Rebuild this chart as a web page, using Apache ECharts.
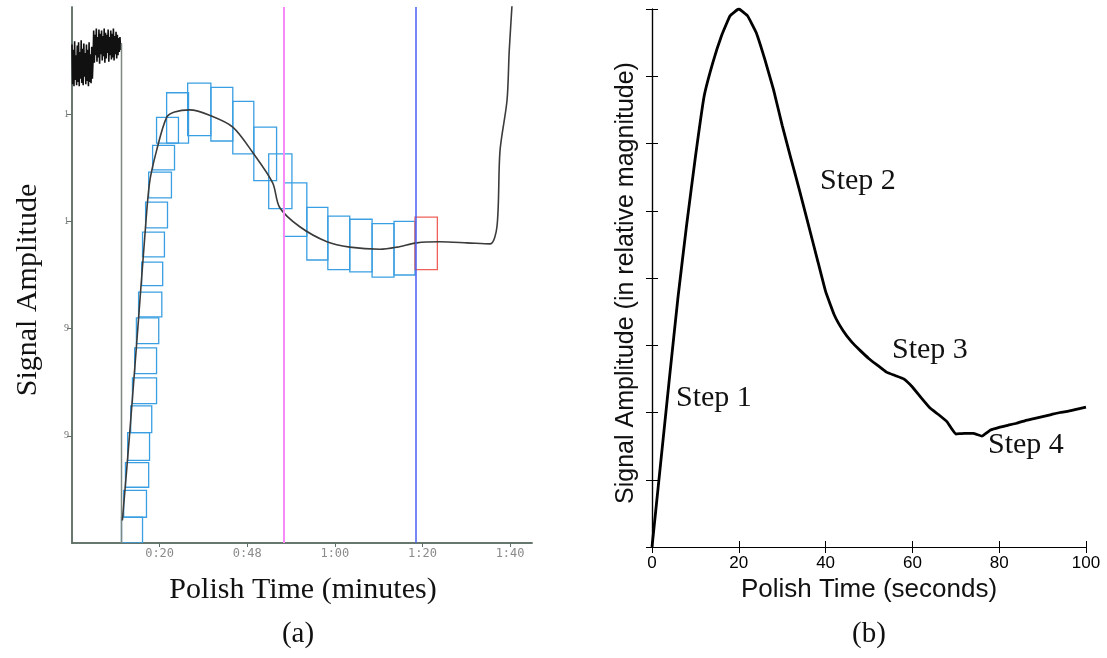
<!DOCTYPE html>
<html>
<head>
<meta charset="utf-8">
<script src="https://cdn.jsdelivr.net/npm/echarts@6/dist/echarts.min.js"></script>
<style>
html, body { margin: 0; padding: 0; background: #ffffff; }
#chart { width: 1107px; height: 658px; }
</style>
</head>
<body>
<div id="chart"></div>
<script>
// ---- panel (a): polish time in seconds, amplitude in tick units ----
var xTicksA = [20, 40, 60, 80, 100];
var xTickLabelsA = ['0:20', '0:48', '1:00', '1:20', '1:40'];
var yTicksA = [1, 2, 3, 4];
var yTickLabelsA = ['9', '9', '1', '1'];

// noisy pre-polish signal, one sample every 0.15 s from 0
var noiseStep = 0.15;
var noiseA = [4.65, 4.28, 4.60, 4.26, 4.68, 4.32, 4.55, 4.27, 4.64, 4.30, 4.67, 4.26,
  4.58, 4.33, 4.69, 4.29, 4.61, 4.27, 4.66, 4.35, 4.57, 4.28, 4.65, 4.31,
  4.60, 4.26, 4.67, 4.30, 4.56, 4.29, 4.63, 4.33,
  4.50, 4.78, 4.48, 4.74, 4.55, 4.80, 4.49, 4.72, 4.53, 4.79, 4.47, 4.75,
  4.56, 4.78, 4.50, 4.73, 4.54, 4.80, 4.48, 4.76, 4.52, 4.74, 4.57, 4.79,
  4.49, 4.72, 4.55, 4.78, 4.51, 4.75, 4.53, 4.80, 4.50, 4.73, 4.56, 4.77,
  4.52, 4.74, 4.55, 4.71, 4.58, 4.72, 4.60, 4.66];
var dropTime = 11.3;

// smoothed polish signal
var curveTimeA = [11.5, 13.1, 15.0, 16.6, 17.7, 19.3, 21.6, 23.4, 26.9, 31.4, 36.7, 41.3,
  45.8, 47.4, 52.0, 58.2, 63.4, 70.3, 74.2, 78.7, 84.0, 90.2, 95.4, 97.0, 97.7, 99.3, 99.8, 100.5, 100.8];
var curveAmpA = [0.21, 0.99, 1.99, 2.85, 3.36, 3.66, 3.97, 4.02, 4.04, 3.99, 3.88, 3.64,
  3.36, 3.13, 2.95, 2.81, 2.76, 2.74, 2.76, 2.80, 2.81, 2.80, 2.79, 2.95, 3.66, 4.13, 4.59, 5.06, 5.3];

// tracking boxes: [start, end, low, high]
var boxesA = [
  [11.3, 16.1, 0.00, 0.24], [11.8, 17.0, 0.24, 0.49], [12.2, 17.5, 0.52, 0.75],
  [12.7, 17.7, 0.77, 1.03], [13.4, 18.2, 1.03, 1.28], [13.8, 19.3, 1.30, 1.54],
  [14.3, 19.3, 1.58, 1.82], [14.7, 19.8, 1.86, 2.10], [15.2, 20.5, 2.11, 2.34],
  [15.9, 20.7, 2.40, 2.62], [16.1, 21.1, 2.67, 2.90], [16.8, 21.8, 2.94, 3.18],
  [17.5, 22.7, 3.22, 3.46], [18.4, 23.4, 3.48, 3.71], [19.3, 24.3, 3.73, 3.97],
  [21.6, 26.6, 3.73, 4.20], [26.4, 31.7, 3.80, 4.29], [31.7, 36.7, 3.75, 4.25],
  [36.7, 41.5, 3.63, 4.12], [41.5, 46.7, 3.38, 3.88], [44.9, 50.2, 3.12, 3.63],
  [48.3, 53.6, 2.86, 3.36], [53.6, 58.4, 2.64, 3.13], [58.4, 63.4, 2.55, 3.05],
  [63.4, 68.5, 2.53, 3.02], [68.5, 73.5, 2.48, 2.98], [73.5, 78.3, 2.50, 3.00]
];
var endBoxA = [[78.3, 83.4, 2.55, 3.04]];
var markerTimesA = [48.3, 78.4];

// ---- panel (b) ----
var timeB = [0, 2, 4, 6, 8, 10, 12, 14, 16, 18, 20, 22, 24, 26, 28, 30, 32, 34, 36, 38, 40,
  42, 44, 46, 48, 50, 52, 54, 56, 58, 60, 62, 64, 66, 68, 70, 72, 74, 76, 78, 80,
  82, 84, 86, 88, 90, 92, 94, 96, 98, 100];
var ampB = [0, 1.25, 2.5, 3.72, 4.8, 5.8, 6.7, 7.2, 7.6, 7.9, 8.0, 7.9, 7.65, 7.25, 6.8, 6.27,
  5.78, 5.3, 4.8, 4.3, 3.8, 3.45, 3.22, 3.05, 2.92, 2.8, 2.7, 2.6, 2.55, 2.5, 2.38,
  2.22, 2.07, 1.97, 1.86, 1.68, 1.69, 1.69, 1.65, 1.74, 1.78, 1.81, 1.84, 1.88, 1.91,
  1.94, 1.97, 2.0, 2.02, 2.05, 2.08];
var stepLabels = ['Step 1', 'Step 2', 'Step 3', 'Step 4'];

function zip(a, b) {
  var out = [];
  for (var i = 0; i < a.length; i++) out.push([a[i], b[i]]);
  return out;
}

var noiseData = noiseA.map(function (v, i) { return [i * noiseStep, v]; });
var frameA = '#5f6f66';
var serif = '"Liberation Serif", "Times New Roman", serif';
var sans = '"Liberation Sans", Arial, sans-serif';

function boxRenderer(color) {
  return function (params, api) {
    var p0 = api.coord([api.value(0), api.value(3)]);
    var p1 = api.coord([api.value(1), api.value(2)]);
    return {
      type: 'rect',
      shape: { x: p0[0], y: p0[1], width: p1[0] - p0[0], height: p1[1] - p0[1] },
      style: { fill: 'none', stroke: color, lineWidth: 1.3 }
    };
  };
}

var chart = echarts.init(document.getElementById('chart'), null, { renderer: 'canvas' });
var option = {
  animation: false,
  backgroundColor: '#ffffff',
  grid: [
    { left: 72, top: 7, width: 460, height: 536 },
    { left: 652, top: 9, width: 434, height: 538 }
  ],
  xAxis: [
    {
      gridIndex: 0, type: 'value', position: 'bottom', min: 0, max: 105, interval: 20,
      axisLine: { lineStyle: { color: frameA, width: 1.5 } },
      axisTick: { show: true, length: 4, customValues: xTicksA, lineStyle: { color: frameA } },
      splitLine: { show: false },
      axisLabel: {
        color: '#8a8a8a', fontSize: 12, fontFamily: '"DejaVu Sans Mono", monospace', margin: 5,
        customValues: xTicksA,
        formatter: function (v) { return xTickLabelsA[xTicksA.indexOf(Math.round(v))] || ''; }
      }
    },
    {
      gridIndex: 0, type: 'value', position: 'top', min: 0, max: 105,
      axisLine: { lineStyle: { color: frameA, width: 1.5 } },
      axisTick: { show: false }, axisLabel: { show: false }, splitLine: { show: false }
    },
    {
      gridIndex: 1, type: 'value', position: 'bottom', min: 0, max: 100, interval: 20,
      axisLine: { lineStyle: { color: '#000', width: 1.2 } },
      axisTick: { show: true, inside: true, length: 6, lineStyle: { color: '#000' } },
      splitLine: { show: false },
      axisLabel: { color: '#000', fontSize: 17, fontFamily: sans, margin: 8 }
    },
    {
      gridIndex: 1, type: 'value', position: 'top', min: 0, max: 100, interval: 20,
      axisLine: { lineStyle: { color: '#000', width: 1.2 } },
      axisTick: { show: true, inside: true, length: 6, lineStyle: { color: '#000' } },
      axisLabel: { show: false }, splitLine: { show: false }
    }
  ],
  yAxis: [
    {
      gridIndex: 0, type: 'value', position: 'left', min: 0, max: 5, interval: 1,
      axisLine: { show: true, lineStyle: { color: frameA, width: 1.5 } },
      axisTick: { show: true, length: 5, customValues: yTicksA, lineStyle: { color: frameA } },
      splitLine: { show: false },
      axisLabel: {
        color: '#777', fontSize: 10, fontFamily: serif, margin: 3,
        customValues: yTicksA,
        formatter: function (v) { return yTickLabelsA[yTicksA.indexOf(Math.round(v))] || ''; }
      }
    },
    {
      gridIndex: 0, type: 'value', position: 'right', min: 0, max: 5,
      axisLine: { show: true, lineStyle: { color: frameA, width: 1.5 } },
      axisTick: { show: false }, axisLabel: { show: false }, splitLine: { show: false }
    },
    {
      gridIndex: 1, type: 'value', position: 'left', min: 0, max: 8, interval: 1,
      axisLine: { show: true, lineStyle: { color: '#000', width: 1.2 } },
      axisTick: { show: true, inside: true, length: 6, lineStyle: { color: '#000' } },
      axisLabel: { show: false }, splitLine: { show: false }
    },
    {
      gridIndex: 1, type: 'value', position: 'right', min: 0, max: 8, interval: 1,
      axisLine: { show: true, lineStyle: { color: '#000', width: 1.2 } },
      axisTick: { show: true, inside: true, length: 6, lineStyle: { color: '#000' } },
      axisLabel: { show: false }, splitLine: { show: false }
    }
  ],
  series: [
    {
      type: 'line', xAxisIndex: 0, yAxisIndex: 0, data: noiseData, symbol: 'none',
      lineStyle: { color: '#111', width: 1.6 }, silent: true
    },
    {
      type: 'line', xAxisIndex: 0, yAxisIndex: 0,
      data: [[dropTime, noiseA[noiseA.length - 1]], [dropTime, 0]], symbol: 'none',
      lineStyle: { color: '#7d8a82', width: 1.5 }, silent: true,
      markLine: {
        silent: true, symbol: 'none', label: { show: false },
        data: [
          { xAxis: markerTimesA[0], lineStyle: { color: '#f88af8', width: 2, type: 'solid' } },
          { xAxis: markerTimesA[1], lineStyle: { color: '#4a5ef0', width: 1.5, type: 'solid' } }
        ]
      }
    },
    {
      type: 'custom', xAxisIndex: 0, yAxisIndex: 0, data: boxesA, clip: true,
      renderItem: boxRenderer('#3a9fe2'), silent: true
    },
    {
      type: 'custom', xAxisIndex: 0, yAxisIndex: 0, data: endBoxA, clip: true,
      renderItem: boxRenderer('#f0605a'), silent: true
    },
    {
      type: 'line', xAxisIndex: 0, yAxisIndex: 0, data: zip(curveTimeA, curveAmpA),
      symbol: 'none', smooth: 0.3, clip: true,
      lineStyle: { color: '#3b3b3b', width: 1.6 }, silent: true
    },
    {
      type: 'line', xAxisIndex: 2, yAxisIndex: 2, data: zip(timeB, ampB),
      symbol: 'none', smooth: 0.1,
      lineStyle: { color: '#000', width: 2.8 }, silent: true
    }
  ],
  graphic: [
    { type: 'text', x: 28, y: 290, rotation: Math.PI / 2,
      style: { text: 'Signal Amplitude', font: '30px ' + serif, fill: '#111', align: 'center', verticalAlign: 'middle' } },
    { type: 'text', x: 303, y: 590,
      style: { text: 'Polish Time (minutes)', font: '30px ' + serif, fill: '#111', align: 'center', verticalAlign: 'middle' } },
    { type: 'text', x: 298, y: 634,
      style: { text: '(a)', font: '29px ' + serif, fill: '#111', align: 'center', verticalAlign: 'middle' } },
    { type: 'text', x: 626, y: 283, rotation: Math.PI / 2,
      style: { text: 'Signal Amplitude (in relative magnitude)', font: '25px ' + sans, fill: '#111', align: 'center', verticalAlign: 'middle' } },
    { type: 'text', x: 869, y: 590,
      style: { text: 'Polish Time (seconds)', font: '26px ' + sans, fill: '#111', align: 'center', verticalAlign: 'middle' } },
    { type: 'text', x: 869, y: 634,
      style: { text: '(b)', font: '29px ' + serif, fill: '#111', align: 'center', verticalAlign: 'middle' } },
    { type: 'text', x: 676, y: 398,
      style: { text: stepLabels[0], font: '30px ' + serif, fill: '#111', align: 'left', verticalAlign: 'middle' } },
    { type: 'text', x: 820, y: 181,
      style: { text: stepLabels[1], font: '30px ' + serif, fill: '#111', align: 'left', verticalAlign: 'middle' } },
    { type: 'text', x: 892, y: 350,
      style: { text: stepLabels[2], font: '30px ' + serif, fill: '#111', align: 'left', verticalAlign: 'middle' } },
    { type: 'text', x: 988, y: 445,
      style: { text: stepLabels[3], font: '30px ' + serif, fill: '#111', align: 'left', verticalAlign: 'middle' } }
  ]
};
chart.setOption(option);
</script>
</body>
</html>
